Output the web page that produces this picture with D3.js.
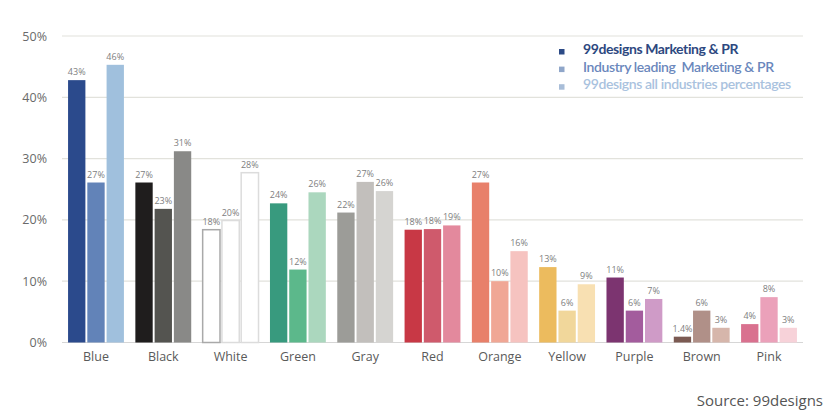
<!DOCTYPE html>
<html>
<head>
<meta charset="utf-8">
<script src="https://cdn.jsdelivr.net/npm/d3@7"></script>
<style>
  html, body { margin: 0; padding: 0; background: #fff; }
  #chart { width: 840px; height: 420px; }
</style>
</head>
<body>
<div id="chart"></div>
<script>
// ── Data ──────────────────────────────────────────────────
const categories = ['Blue', 'Black', 'White', 'Green', 'Gray', 'Red', 'Orange', 'Yellow', 'Purple', 'Brown', 'Pink'];
const seriesNames = ['99designs Marketing & PR', 'Industry leading  Marketing & PR', '99designs all industries percentages'];

// bar heights as drawn (%), labels as printed
const marketingPR = [42.8, 26.1, 18.4, 22.7, 21.2, 18.4, 26.1, 12.3, 10.6, 0.95, 3.0];
const industryLeading = [26.1, 21.8, 19.9, 11.9, 26.2, 18.5, 10.0, 5.2, 5.2, 5.2, 7.4];
const allIndustries = [45.3, 31.2, 27.7, 24.5, 24.7, 19.1, 14.9, 9.5, 7.1, 2.4, 2.4];

const marketingLabels = ['43%', '27%', '18%', '24%', '22%', '18%', '27%', '13%', '11%', '1.4%', '4%'];
const industryLabels = ['27%', '23%', '20%', '12%', '27%', '18%', '10%', '6%', '6%', '6%', '8%'];
const allLabels = ['46%', '31%', '28%', '26%', '26%', '19%', '16%', '9%', '7%', '3%', '3%'];

const yTicks = [0, 10, 20, 30, 40, 50];

// ── Colours per category (dark, mid, light) ───────────────
const palette = {
  Blue:   ['#2b4a8c', '#6283b8', '#a0c0dd'],
  Black:  ['#1f1d1d', '#545450', '#898987'],
  White:  ['#ffffff', '#ffffff', '#ffffff'],
  Green:  ['#389a7e', '#5cb88b', '#abd7be'],
  Gray:   ['#9c9c98', '#c2bfbc', '#d5d4d1'],
  Red:    ['#c83845', '#cf5a6c', '#e3899d'],
  Orange: ['#e8806a', '#f0a795', '#f6c3c0'],
  Yellow: ['#ecbb5e', '#f1d79b', '#f8e0b2'],
  Purple: ['#7c3470', '#a35c9d', '#cf9bc7'],
  Brown:  ['#7b5a52', '#b09088', '#d6b6ab'],
  Pink:   ['#d9718f', '#eba1ba', '#f7d2d9'],
};
const whiteStroke = ['#a9a9a9', '#dcdcdc', '#dcdcdc'];

const rows = categories.map((c, i) => ({
  cat: c,
  bars: [
    { v: marketingPR[i], label: marketingLabels[i], k: 0 },
    { v: industryLeading[i], label: industryLabels[i], k: 1 },
    { v: allIndustries[i], label: allLabels[i], k: 2 },
  ],
}));

// ── Layout ────────────────────────────────────────────────
const W = 840, H = 420;
const svg = d3.select('#chart').append('svg')
  .attr('width', W).attr('height', H)
  .style('display', 'block')
  .style('font-family', 'Lato, "Open Sans", sans-serif');

const x0 = d3.scaleBand().domain(categories).range([62, 803])
  .paddingInner(0.17).paddingOuter(0.09);
const x1 = d3.scaleBand().domain([0, 1, 2]).range([0, x0.bandwidth()])
  .paddingInner(0.1);
const y = d3.scaleLinear().domain([0, 50]).range([342.5, 36]);

// Gridlines
svg.append('g').selectAll('line')
  .data(yTicks).join('line')
  .attr('x1', 62).attr('x2', 803)
  .attr('y1', d => y(d)).attr('y2', d => y(d))
  .attr('stroke', d => d === 0 ? '#d6d6d6' : '#e2e2dc')
  .attr('stroke-width', 1.2);

// Y axis labels
const yAxis = svg.append('g')
  .attr('transform', 'translate(47,0)')
  .call(d3.axisLeft(y).tickValues(yTicks).tickFormat(d => d + '%').tickSize(0).tickPadding(0));
yAxis.select('.domain').remove();
yAxis.selectAll('text')
  .attr('font-family', '"Open Sans", sans-serif')
  .attr('font-size', 12.5)
  .attr('fill', '#6a6a6a');

// Bars
const groups = svg.append('g').selectAll('g')
  .data(rows).join('g')
  .attr('transform', d => `translate(${x0(d.cat)},0)`);

groups.selectAll('rect')
  .data(d => d.bars.map(b => ({ ...b, cat: d.cat })))
  .join('rect')
  .attr('x', d => x1(d.k))
  .attr('width', x1.bandwidth())
  .attr('y', d => y(d.v))
  .attr('height', d => y(0) - y(d.v))
  .attr('fill', d => palette[d.cat][d.k])
  .attr('stroke', d => d.cat === 'White' ? whiteStroke[d.k] : null)
  .attr('stroke-width', d => d.cat === 'White' ? 1.5 : null);

groups.selectAll('text.val')
  .data(d => d.bars)
  .join('text')
  .attr('class', 'val')
  .attr('x', d => x1(d.k) + x1.bandwidth() / 2)
  .attr('y', d => y(d.v) - 5)
  .attr('text-anchor', 'middle')
  .attr('font-family', '"Open Sans", sans-serif')
  .attr('font-size', 9)
  .attr('fill', '#808080')
  .text(d => d.label);

// Category labels
svg.append('g').selectAll('text')
  .data(categories).join('text')
  .attr('x', d => x0(d) + x0.bandwidth() / 2)
  .attr('y', 361)
  .attr('text-anchor', 'middle')
  .attr('font-family', '"Open Sans", sans-serif')
  .attr('font-size', 12.5)
  .attr('fill', '#5a5a5a')
  .text(d => d);

// Legend
const legendColors = ['#2c4a86', '#8fa6c9', '#a8bdd8'];
const legendText = ['#2d4880', '#6a87bc', '#a9c2de'];
const legend = svg.append('g').selectAll('g')
  .data(seriesNames).join('g')
  .attr('transform', (d, i) => `translate(559,${54 + i * 17.6})`);
legend.append('rect')
  .attr('x', 0).attr('y', -5).attr('width', 5.5).attr('height', 5.5)
  .attr('fill', (d, i) => legendColors[i]);
legend.append('text')
  .attr('x', 24).attr('y', 0)
  .attr('font-size', 14)
  .attr('font-weight', (d, i) => i === 0 ? 700 : 600)
  .attr('letter-spacing', -0.4)
  .attr('fill', (d, i) => legendText[i])
  .text(d => d)
  .style('white-space', 'pre');

// Source
svg.append('text')
  .attr('x', 823).attr('y', 406)
  .attr('text-anchor', 'end')
  .attr('font-family', '"Open Sans", sans-serif')
  .attr('font-size', 15)
  .attr('fill', '#555')
  .text('Source: 99designs');
</script>
</body>
</html>
